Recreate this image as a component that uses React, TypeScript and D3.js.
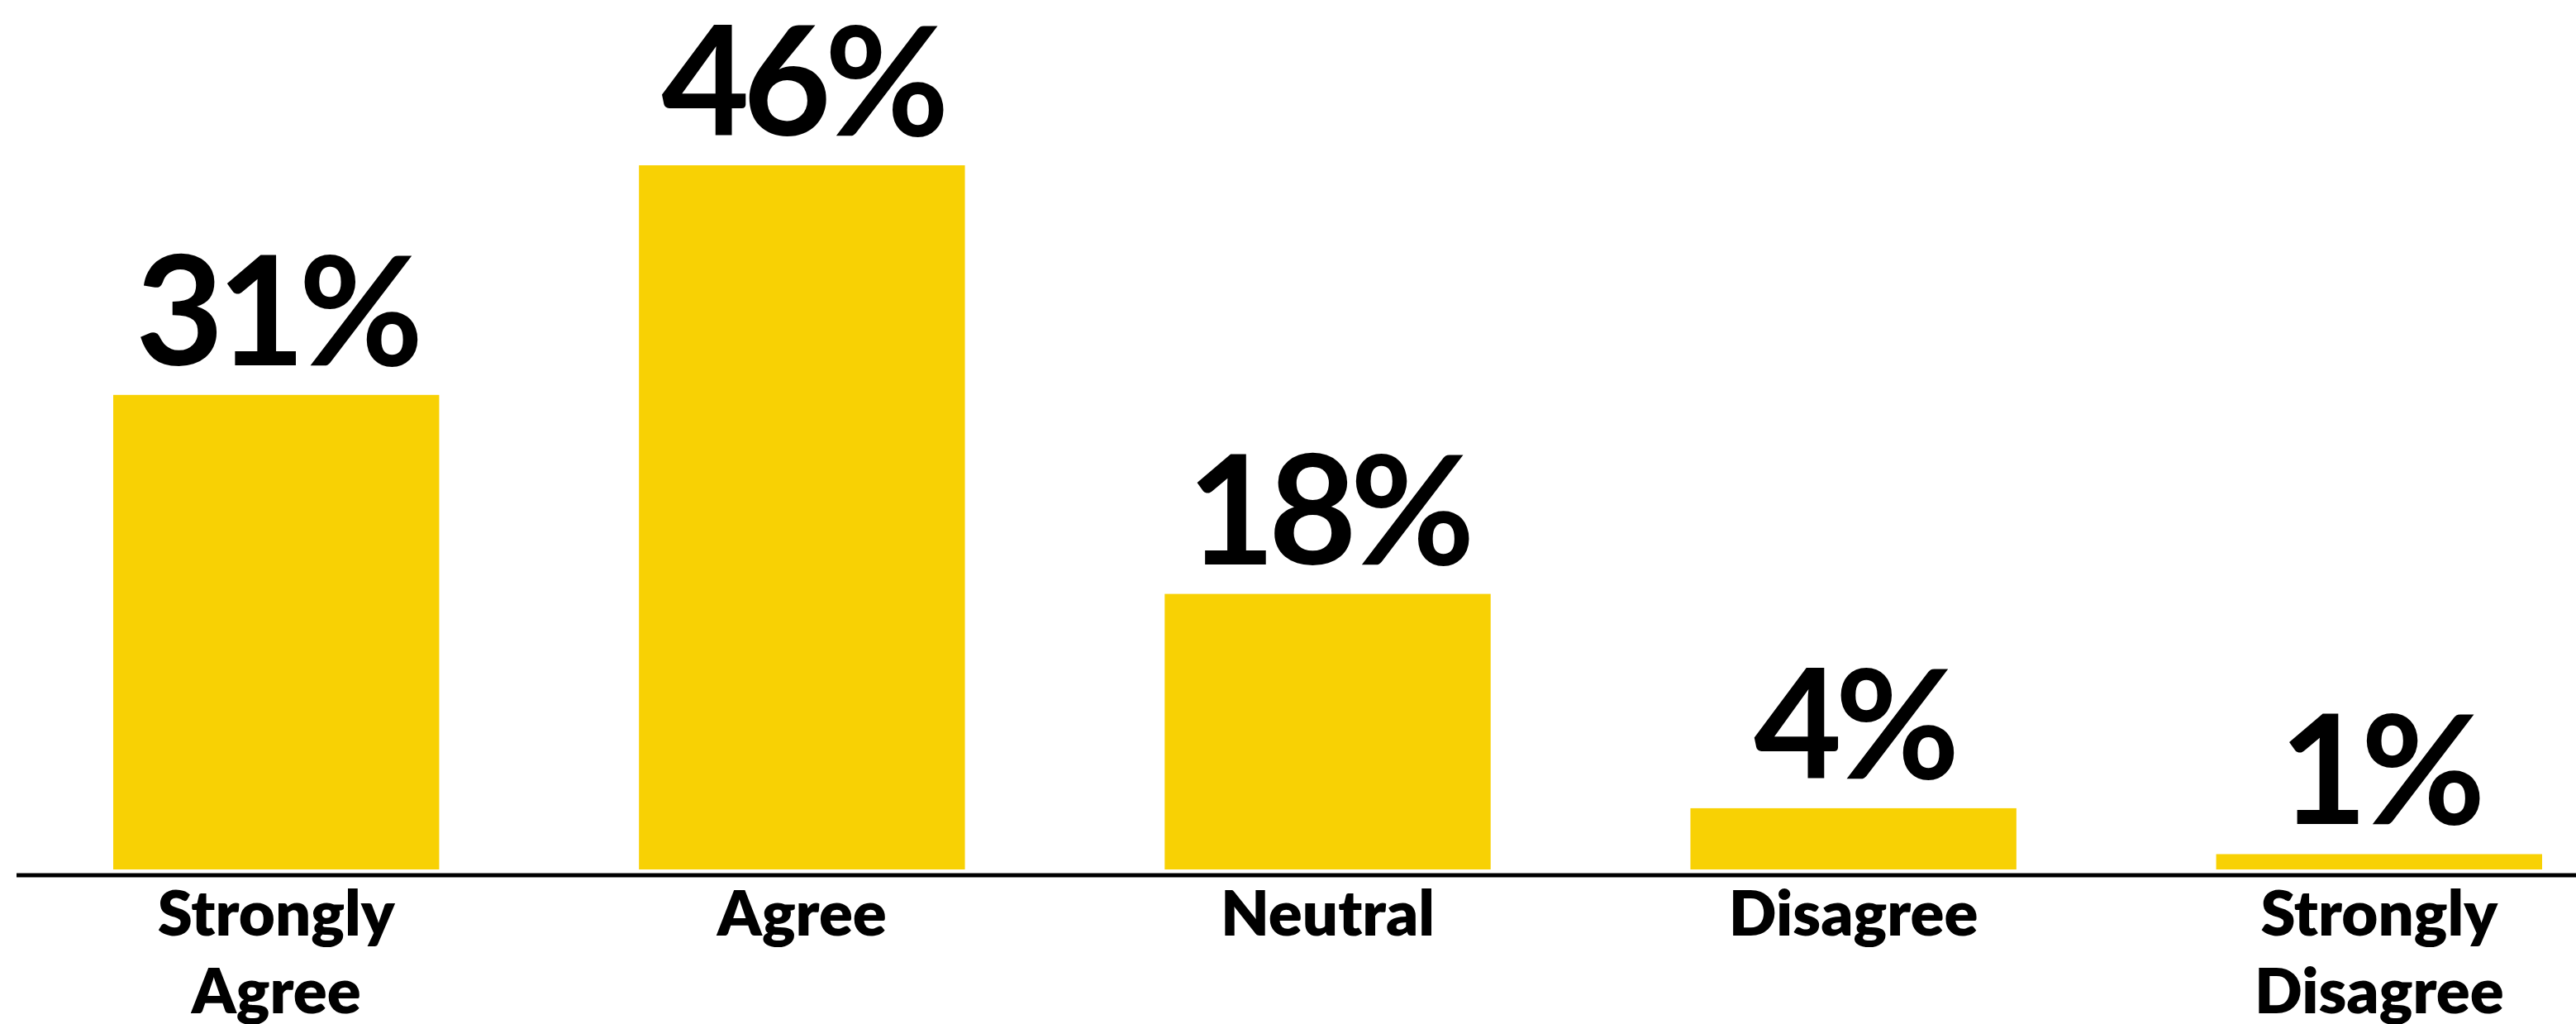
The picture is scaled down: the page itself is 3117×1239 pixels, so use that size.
import { useMemo } from "react";
import * as d3 from "d3";

const categories = [
  "Strongly Agree",
  "Agree",
  "Neutral",
  "Disagree",
  "Strongly Disagree",
];
const values = [31, 46, 18, 4, 1];

const WIDTH = 3117;
const HEIGHT = 1239;
const BAR_COLOR = "#F8D104";
const FONT = "Lato, 'Open Sans', sans-serif";

export default function App() {
  const baseline = 1052;
  const axisY = 1059;

  const xScale = useMemo(
    () =>
      d3
        .scaleBand()
        .domain(categories)
        .range([137, 3076])
        .paddingInner(0.38)
        .paddingOuter(0),
    [],
  );

  const yScale = useMemo(
    () => d3.scaleLinear().domain([0, 46]).range([baseline, 200]),
    [],
  );

  const cx = (c: string) => (xScale(c) ?? 0) + xScale.bandwidth() / 2;

  return (
    <svg
      width={WIDTH}
      height={HEIGHT}
      viewBox={`0 0 ${WIDTH} ${HEIGHT}`}
      style={{ position: "absolute", left: 0, top: 0, background: "#fff" }}
    >
      {/* bars */}
      {categories.map((c, i) => (
        <rect
          key={c}
          x={xScale(c) ?? 0}
          y={yScale(values[i])}
          width={xScale.bandwidth()}
          height={baseline - yScale(values[i])}
          fill={BAR_COLOR}
        />
      ))}

      {/* value labels */}
      {categories.map((c, i) => (
        <text
          key={`v-${c}`}
          x={cx(c)}
          y={yScale(values[i]) - 36}
          textAnchor="middle"
          style={{
            fontFamily: FONT,
            fontSize: "184px",
            fontWeight: 700,
            letterSpacing: "-8px",
          }}
          fill="#000"
        >
          {`${values[i]}%`}
        </text>
      ))}

      {/* axis */}
      <line x1={20} x2={WIDTH} y1={axisY} y2={axisY} stroke="#000" strokeWidth={5} />

      {/* category labels */}
      {categories.map((c) => (
        <text
          key={`c-${c}`}
          x={cx(c)}
          y={1132}
          textAnchor="middle"
          style={{ fontFamily: FONT, fontSize: "76px", fontWeight: 800 }}
          fill="#000"
        >
          {c.split(" ").map((line, j) => (
            <tspan key={j} x={cx(c)} dy={j === 0 ? 0 : 94}>
              {line}
            </tspan>
          ))}
        </text>
      ))}
    </svg>
  );
}
